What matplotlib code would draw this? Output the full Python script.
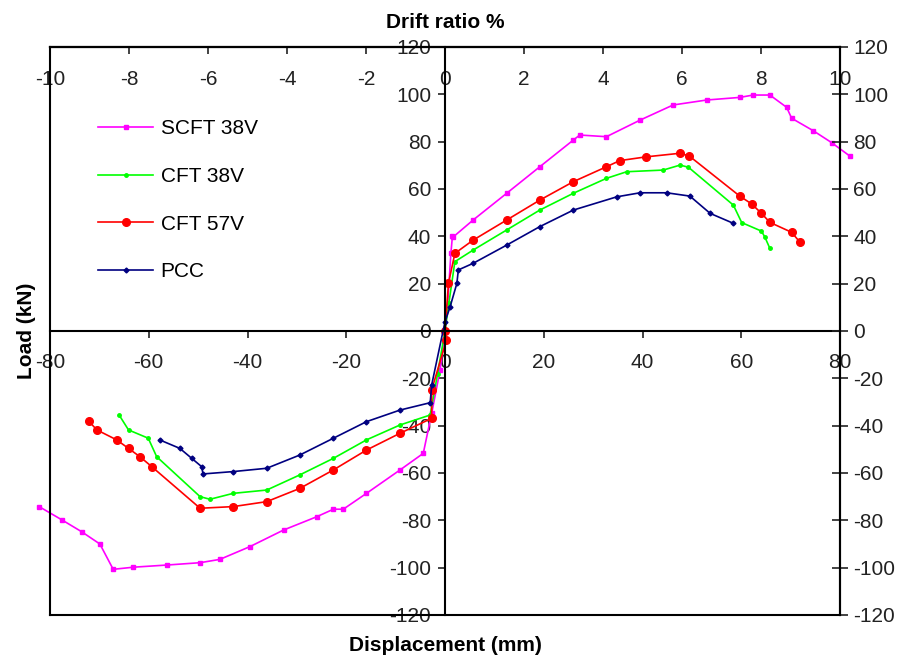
import matplotlib
matplotlib.use("Agg")
import matplotlib.pyplot as plt

plt.rcParams['font.family'] = ['Liberation Sans', 'DejaVu Sans']
plt.rcParams['axes.unicode_minus'] = False

# data: displacement (mm) vs load (kN)
scft_x = [-82.2, -77.6, -73.6, -69.9, -67.2, -63.1, -56.4, -49.6, -45.6, -39.5, -32.7, -26.0,
          -22.6, -20.6, -15.9, -9.1, -4.4, -2.7, -1.0, 0.0, 0.5, 1.2, 1.5, 1.7, 5.7, 12.5, 19.2,
          26.0, 27.3, 32.7, 39.5, 46.2, 53.0, 59.7, 62.4, 65.8, 69.2, 70.2, 74.6, 78.3, 82.0]
scft_y = [-74.2, -79.8, -84.8, -90.0, -100.7, -99.8, -98.9, -97.9, -96.5, -91.1, -84.1, -78.5,
          -75.3, -75.3, -68.6, -58.7, -51.7, -34.8, -16.5, 0.0, 10.0, 33.0, 40.0, 39.8, 46.9, 58.2, 69.4,
          80.7, 82.8, 82.1, 89.1, 95.5, 97.6, 98.7, 99.7, 99.7, 94.5, 89.9, 84.6, 79.6, 73.9]

cft38_x = [-66.0, -64.1, -60.1, -58.4, -49.6, -47.6, -42.9, -36.1, -29.4, -22.6, -15.9, -9.1,
           -3.0, -1.5, 0.0, 0.8, 2.0, 5.7, 12.5, 19.2, 26.0, 32.7, 36.8, 44.2, 47.6, 49.3,
           58.4, 60.1, 64.1, 64.8, 65.8]
cft38_y = [-35.5, -41.8, -45.3, -53.1, -70.0, -71.1, -68.6, -67.2, -60.8, -53.8, -46.0, -39.7,
           -35.5, -18.0, 0.0, 12.0, 29.3, 34.2, 42.7, 51.1, 58.2, 64.5, 67.3, 68.0, 70.1, 69.2,
           53.2, 45.8, 42.2, 39.6, 34.9]

cft57_x = [-72.2, -70.5, -66.5, -64.1, -61.8, -59.4, -49.6, -42.9, -36.1, -29.4, -22.6, -15.9,
           -9.1, -2.7, -2.7, 0.3, 0.0, 0.7, 2.0, 5.7, 12.5, 19.2, 26.0, 32.7, 35.4, 40.8, 47.6,
           49.5, 59.7, 62.1, 64.1, 65.8, 70.2, 71.9]
cft57_y = [-38.0, -41.8, -46.0, -49.6, -53.1, -57.3, -74.9, -74.2, -72.1, -66.5, -58.7, -50.3,
           -43.2, -36.9, -24.9, -3.8, 0.0, 20.1, 32.8, 38.4, 46.9, 55.3, 63.1, 69.4, 72.0, 73.6, 75.1,
           73.9, 57.0, 53.7, 49.7, 45.9, 41.7, 37.5]

pcc_x = [-57.8, -53.7, -51.3, -49.3, -49.0, -42.9, -36.1, -29.4, -22.6, -15.9, -9.1, -3.0,
         -2.7, 0.0, 1.0, 2.4, 2.7, 5.7, 12.5, 19.2, 26.0, 34.8, 39.5, 44.9, 49.6, 53.7, 58.4]
pcc_y = [-46.0, -49.6, -53.8, -57.3, -60.4, -59.4, -58.0, -52.4, -45.3, -38.3, -33.4, -30.3,
         -22.8, 3.9, 10.0, 20.1, 25.8, 28.6, 36.3, 44.1, 51.1, 56.7, 58.4, 58.4, 57.0, 49.7, 45.5]

disp_ticks = [-80, -60, -40, -20, 0, 20, 40, 60, 80]
load_ticks = [-120, -100, -80, -60, -40, -20, 0, 20, 40, 60, 80, 100, 120]
drift_ticks = [-10, -8, -6, -4, -2, 0, 2, 4, 6, 8, 10]

fs = 15

fig = plt.figure(figsize=(8.99, 6.56), dpi=100)
ax = fig.add_axes([50 / 899, 41 / 656, 790 / 899, 568 / 656])

ax.plot(scft_x, scft_y, color='#FF00FF', lw=1.2, marker='s', ms=2.5, label='SCFT 38V', clip_on=False)
ax.plot(cft38_x, cft38_y, color='#00FF00', lw=1.2, marker='o', ms=2.5, label='CFT 38V', clip_on=False)
ax.plot(cft57_x, cft57_y, color='#FF0000', lw=1.2, marker='o', ms=5.5, label='CFT 57V', clip_on=False)
ax.plot(pcc_x, pcc_y, color='#000080', lw=1.2, marker='D', ms=2.5, label='PCC', clip_on=False)

ax.set_xlim(-80, 80)
ax.set_ylim(-120, 120)
ax.spines['left'].set_position('zero')
ax.spines['bottom'].set_position('zero')
for s in ax.spines.values():
    s.set_linewidth(1.5)
ax.xaxis.set_ticks_position('bottom')
ax.yaxis.set_ticks_position('left')
ax.set_xticks(disp_ticks)
ax.set_yticks(load_ticks)
ax.tick_params(axis='x', direction='out', length=5, width=1.2, pad=11, labelsize=fs, colors='#222222')
ax.tick_params(axis='y', direction='out', length=5, width=1.2, pad=5, labelsize=fs, colors='#222222')

ax.set_xlabel('Displacement (mm)', fontsize=fs, fontweight='bold')
ax.xaxis.set_label_coords(0.5, -0.037)
ax.set_ylabel('Load (kN)', fontsize=fs, fontweight='bold')
ax.yaxis.set_label_coords(-0.018, 0.5)

# right-hand load axis (also draws the outer frame)
ax2 = ax.twinx()
ax2.set_ylim(-120, 120)
ax2.set_yticks(load_ticks)
ax2.tick_params(axis='y', direction='inout', length=11, width=1.2, pad=4, labelsize=fs, colors='#222222')
for s in ax2.spines.values():
    s.set_linewidth(1.5)

# drift ratio axis on top
sec = ax.secondary_xaxis('top', functions=(lambda d: d / 8.0, lambda r: r * 8.0))
sec.set_xticks(drift_ticks)
sec.tick_params(direction='in', length=5, width=1.2, pad=-30, labelsize=fs, colors='#222222')
sec.spines['top'].set_linewidth(1.5)
ax.text(0.5, 1.044, 'Drift ratio %', transform=ax.transAxes, ha='center', va='center',
        fontsize=fs, fontweight='bold')

leg = ax.legend(loc='upper left', bbox_to_anchor=(0.061, 0.873), frameon=False, fontsize=fs,
                handlelength=2.65, labelspacing=1.38, borderpad=0, borderaxespad=0, handletextpad=0.35)

fig.savefig('out.png', dpi=100)
